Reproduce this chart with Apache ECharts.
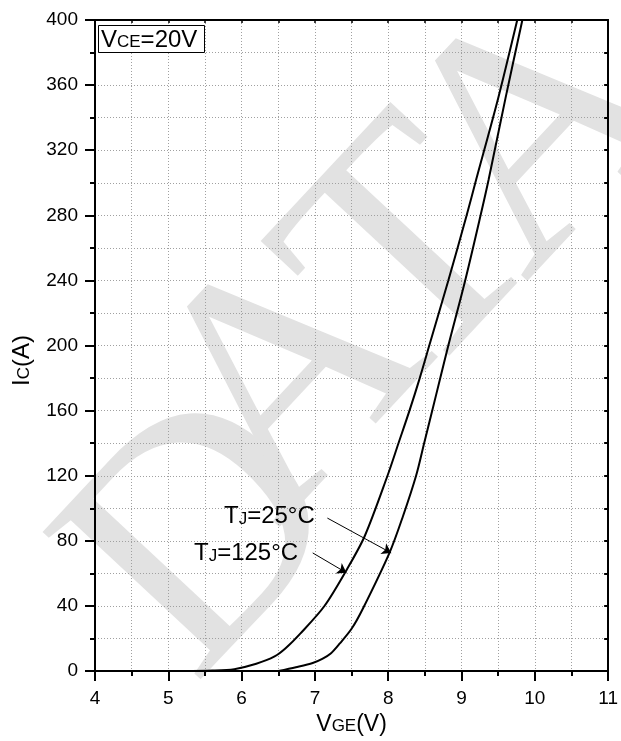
<!DOCTYPE html>
<html>
<head>
<meta charset="utf-8">
<script src="https://cdn.jsdelivr.net/npm/echarts@6/dist/echarts.min.js"></script>
<style>
  html, body { margin: 0; padding: 0; background: #fff; }
  #chart { width: 621px; height: 741px; }
</style>
</head>
<body>
<div id="chart"></div>
<script>
// ---- data ----
const xTicks = [4, 5, 6, 7, 8, 9, 10, 11];
const yTicks = [0, 40, 80, 120, 160, 200, 240, 280, 320, 360, 400];

// Tj = 125 °C (left curve)
const vge125 = [5.2, 5.6, 5.9, 6.2, 6.45, 6.6, 6.8, 7.13, 7.43, 7.68, 7.99, 8.14, 8.29, 8.43, 8.56, 8.82, 9.07, 9.2, 9.5, 9.76];
const ic125  = [0,   0.3, 1.2, 4.5, 9,    14,  23,  40,   62,   83,   120,  140,  160,  180,  200,  240,  280,  302, 352, 400];

// Tj = 25 °C (right curve)
const vge25 = [6.5, 6.74, 6.97, 7.1, 7.22, 7.34, 7.5, 7.65, 8.02, 8.2, 8.38, 8.49, 8.6, 8.71, 8.82, 9.05, 9.26, 9.37, 9.6, 9.83];
const ic25  = [0,   2.4,  5,    7.5, 11,   17,   26,  38,   73,   95,  120,  140,  160,  180,  200,  240,  280,  302,  352, 400];

// annotation arrows (data coordinates: [VGE, IC])
const arrow25From  = [7.17, 94];
const arrow25To    = [8.04, 72.6];
const arrow125From = [6.97, 72.6];
const arrow125To   = [7.43, 60.4];

const label25  = 'TJ=25°C';
const label125 = 'TJ=125°C';
const condition = 'VCE=20V';
const watermark = ['D', 'A', 'T', 'A'];

// ---- build ----
const zip = (xs, ys) => xs.map((x, i) => [x, ys[i]]);
const FONT = "'Liberation Sans', Arial, sans-serif";
const chart = echarts.init(document.getElementById('chart'), null, { renderer: 'canvas' });

const wmPos = [[212, 540], [295, 383], [420, 260], [543, 137]];

const gridLine = { show: true, lineStyle: { color: '#a0a0a0', width: 1, type: [1, 2] } };
const richSub = (big, small, lh) => ({
  a: { fontFamily: FONT, fontSize: big, fontWeight: 'normal', color: '#000', fill: '#000', lineHeight: lh, verticalAlign: 'bottom' },
  b: { fontFamily: FONT, fontSize: small, fontWeight: 'normal', color: '#000', fill: '#000', lineHeight: lh, verticalAlign: 'bottom', padding: [0, 0, 1, 0] }
});

const option = {
  animation: false,
  backgroundColor: '#fff',
  grid: { left: 95, right: 12, top: 20, bottom: 65, containLabel: false },
  title: {
    text: '{a|V}{b|CE}{a|=20V}',
    left: 98, top: 24,
    borderColor: '#000', borderWidth: 1,
    padding: [3, 7, 1, 3],
    backgroundColor: '#fff',
    textStyle: { fontWeight: 'normal', rich: richSub(24, 17, 25) }
  },
  xAxis: [{
    type: 'value', min: 4, max: 11, interval: 1, position: 'bottom',
    name: '{a|V}{b|GE}{a|(V)}', nameLocation: 'middle', nameGap: 32,
    nameTextStyle: { rich: richSub(23, 17, 24) },
    axisLine: { show: true, onZero: false, lineStyle: { color: '#000', width: 2 } },
    axisTick: { show: true, inside: false, length: 10, lineStyle: { color: '#000', width: 2 } },
    minorTick: { show: true, splitNumber: 2, length: 5, lineStyle: { color: '#000', width: 2 } },
    axisLabel: { color: '#000', fontFamily: FONT, fontSize: 19, margin: 18,
      formatter: v => xTicks.includes(v) ? String(v) : '' },
    splitLine: gridLine,
    minorSplitLine: gridLine
  }, {
    type: 'value', min: 4, max: 11, interval: 1, position: 'top',
    axisLine: { show: true, onZero: false, lineStyle: { color: '#000', width: 2 } },
    axisTick: { show: true, inside: true, length: 3, lineStyle: { color: '#000', width: 1.5 } },
    minorTick: { show: true, splitNumber: 2, length: 3, lineStyle: { color: '#000', width: 1.5 } },
    axisLabel: { show: false },
    splitLine: { show: false }
  }],
  yAxis: [{
    type: 'value', min: 0, max: 400, interval: 40, position: 'left',
    name: '{a|I}{b|C}{a|(A)}', nameLocation: 'middle', nameGap: 61, nameRotate: 90,
    nameTextStyle: { padding: [0, 30, 0, 0], rich: richSub(24, 17, 26) },
    axisLine: { show: true, onZero: false, lineStyle: { color: '#000', width: 2 } },
    axisTick: { show: true, inside: false, length: 10, lineStyle: { color: '#000', width: 2 } },
    minorTick: { show: true, splitNumber: 2, length: 5, lineStyle: { color: '#000', width: 2 } },
    axisLabel: { color: '#000', fontFamily: FONT, fontSize: 19, margin: 17,
      formatter: v => yTicks.includes(v) ? String(v) : '' },
    splitLine: gridLine,
    minorSplitLine: gridLine
  }, {
    type: 'value', min: 0, max: 400, interval: 40, position: 'right',
    axisLine: { show: true, onZero: false, lineStyle: { color: '#000', width: 2 } },
    axisTick: { show: true, inside: true, length: 4, lineStyle: { color: '#000', width: 2 } },
    minorTick: { show: true, splitNumber: 2, length: 4, lineStyle: { color: '#000', width: 2 } },
    axisLabel: { show: false },
    splitLine: { show: false }
  }],
  graphic: [
    ...watermark.map((ch, i) => ({
      type: 'text', x: wmPos[i][0], y: wmPos[i][1], rotation: 47 * Math.PI / 180, z: -10, silent: true,
      style: { text: ch, fontFamily: "'Liberation Serif', 'Times New Roman', serif", fontSize: 330,
               fill: '#e2e2e2', align: 'center', verticalAlign: 'middle' }
    })),
    {
      type: 'text', x: 224, y: 516, z: 20,
      style: { text: '{a|T}{b|J}{a|=25°C}', align: 'left', verticalAlign: 'middle', rich: richSub(24, 17, 25) }
    },
    {
      type: 'text', x: 194, y: 553, z: 20,
      style: { text: '{a|T}{b|J}{a|=125°C}', align: 'left', verticalAlign: 'middle', rich: richSub(24, 17, 25) }
    }
  ],
  series: [{
    name: label125, type: 'line', xAxisIndex: 0, yAxisIndex: 0,
    data: zip(vge125, ic125), showSymbol: false, smooth: 0.3,
    lineStyle: { color: '#000', width: 2 }, clip: true, z: 5,
    markLine: {
      silent: true, symbol: ['none', 'arrow'], symbolSize: 9,
      lineStyle: { color: '#000', width: 1, type: 'solid' }, label: { show: false },
      data: [[{ coord: arrow125From }, { coord: arrow125To }]]
    }
  }, {
    name: label25, type: 'line', xAxisIndex: 0, yAxisIndex: 0,
    data: zip(vge25, ic25), showSymbol: false, smooth: 0.3,
    lineStyle: { color: '#000', width: 2 }, clip: true, z: 5,
    markLine: {
      silent: true, symbol: ['none', 'arrow'], symbolSize: 9,
      lineStyle: { color: '#000', width: 1, type: 'solid' }, label: { show: false },
      data: [[{ coord: arrow25From }, { coord: arrow25To }]]
    }
  }]
};
chart.setOption(option);
</script>
</body>
</html>
